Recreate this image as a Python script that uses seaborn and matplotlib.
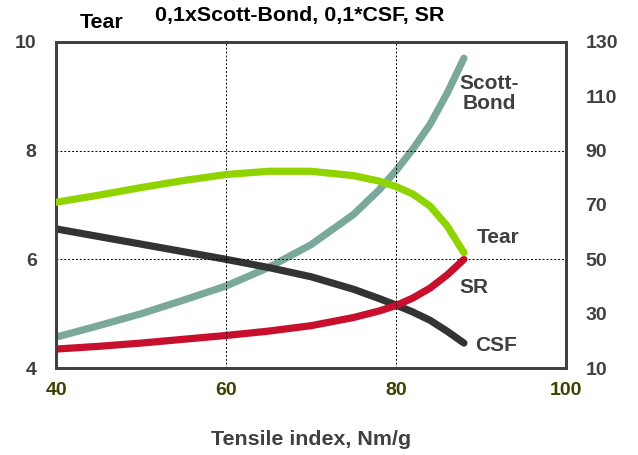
import pandas as pd
import matplotlib.pyplot as plt
import seaborn as sns

sns.set_style("white")
plt.rcParams["font.family"] = ["Liberation Sans", "DejaVu Sans"]

# tensile index, Nm/g
tensile = [40, 45, 50, 55, 60, 65, 70, 75, 78, 80, 82, 84, 86, 88]

# left axis
tear = [7.05, 7.18, 7.32, 7.45, 7.56, 7.62, 7.62, 7.54, 7.44, 7.34, 7.2, 6.98, 6.62, 6.12]

# right axis
scott_bond = [21.4, 25.6, 30.0, 35.0, 40.2, 47.0, 55.4, 66.5, 75.5, 82.6, 90.6, 99.6, 111.0, 124.0]
csf = [61.2, 58.4, 55.6, 52.8, 50.0, 47.0, 43.6, 39.0, 35.6, 33.2, 30.6, 27.6, 23.6, 19.2]
sr = [17.0, 18.0, 19.2, 20.6, 22.0, 23.6, 25.6, 28.6, 31.0, 33.0, 35.8, 39.4, 44.2, 50.0]

df = pd.DataFrame({"x": tensile, "Tear": tear, "Scott-Bond": scott_bond,
                   "CSF": csf, "SR": sr})

fig, ax = plt.subplots(figsize=(6.38, 4.55), dpi=100)
fig.subplots_adjust(left=0.088, right=0.887, top=0.908, bottom=0.191)
ax2 = ax.twinx()

lw = 5.2
sns.lineplot(data=df, x="x", y="Tear", ax=ax, color="#8fd400", lw=lw,
             zorder=4, solid_capstyle="round", solid_joinstyle="round")
sns.lineplot(data=df, x="x", y="Scott-Bond", ax=ax2, color="#7aa89a", lw=lw,
             solid_capstyle="round", solid_joinstyle="round")
sns.lineplot(data=df, x="x", y="CSF", ax=ax2, color="#333333", lw=lw,
             solid_capstyle="round", solid_joinstyle="round")
sns.lineplot(data=df, x="x", y="SR", ax=ax2, color="#c8102e", lw=lw,
             solid_capstyle="round", solid_joinstyle="round")
ax.set_zorder(ax2.get_zorder() + 1)
ax.patch.set_visible(False)

ax.set_xlim(40, 100)
ax.set_ylim(4, 10)
ax2.set_ylim(10, 130)
ax.set_xticks([40, 60, 80, 100])
ax.set_yticks([4, 6, 8, 10])
ax2.set_yticks([10, 30, 50, 70, 90, 110, 130])

for v in [60, 80]:
    ax.axvline(v, color="black", lw=0.7, ls=(0, (2, 2)), zorder=1)
for v in [6, 8]:
    ax.axhline(v, color="black", lw=0.7, ls=(0, (2, 2)), zorder=1)

ax.set_xlabel("Tensile index, Nm/g", fontsize=15.4, fontweight="bold",
              color="#404040", labelpad=22)
ax.set_ylabel("")
ax2.set_ylabel("")
ax.tick_params(axis="x", length=0, pad=10, labelsize=14, labelcolor="#3f3f00")
ax.tick_params(axis="y", length=0, pad=14, labelsize=14, labelcolor="#404040")
ax2.tick_params(axis="y", length=0, pad=14, labelsize=14, labelcolor="#404040")
for a in (ax, ax2):
    for lab in a.get_xticklabels() + a.get_yticklabels():
        lab.set_fontweight("bold")
    for s in a.spines.values():
        s.set_color("#404040")
        s.set_linewidth(2)

fig.text(0.160, 0.950, "Tear", fontsize=15.4, fontweight="bold", ha="center",
         va="center", color="black")
fig.text(0.47, 0.967, "0,1xScott-Bond, 0,1*CSF, SR", fontsize=15.4,
         fontweight="bold", ha="center", va="center", color="black")

lab_kw = dict(fontsize=15, fontweight="bold", color="#404040", va="center")
ax.text(91.0, 9.05, "Scott-\nBond", ha="center", multialignment="center",
        linespacing=1.1, **lab_kw)
ax.text(89.5, 6.41, "Tear", ha="left", **lab_kw)
ax.text(87.5, 5.49, "SR", ha="left", **lab_kw)
ax.text(89.3, 4.42, "CSF", ha="left", **lab_kw)

fig.savefig("out.png", dpi=100)
